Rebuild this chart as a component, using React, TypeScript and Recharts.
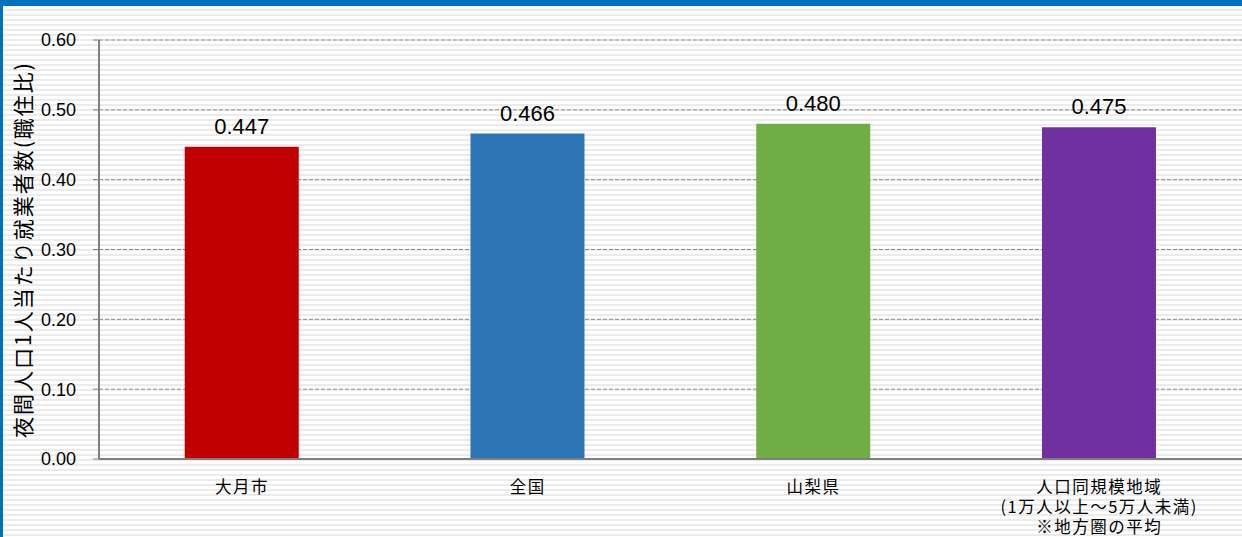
import { Bar, BarChart, CartesianGrid, Cell, LabelList, XAxis, YAxis } from "recharts";

const categories = ["大月市", "全国", "山梨県", "人口同規模地域"];
const subLabels = [[], [], [], ["(1万人以上～5万人未満)", "※地方圏の平均"]];
const ratios = [0.447, 0.466, 0.48, 0.475];
const barColors = ["#c00000", "#2e75b6", "#70ad47", "#7030a0"];
const yTicks = [0, 0.1, 0.2, 0.3, 0.4, 0.5, 0.6];
const yLabel = "夜間人口1人当たり就業者数(職住比)";

const data = categories.map((name, i) => ({ name, value: ratios[i], sub: subLabels[i] }));

const cjkFont = "'Noto Sans CJK JP', 'Noto Sans', sans-serif";
const numFont = "'Liberation Sans', Arial, sans-serif";

function CategoryTick({ x, y, payload, index }: any) {
  const lines = [payload.value, ...(subLabels[index] ?? [])];
  return (
    <g transform={`translate(${x},${y})`}>
      {lines.map((line: string, i: number) => (
        <text
          key={i}
          x={0}
          y={26 + i * 20}
          textAnchor="middle"
          fontSize={16.5}
          letterSpacing={1.5}
          fontFamily={cjkFont}
          fill="#000"
        >
          {line}
        </text>
      ))}
    </g>
  );
}

export default function App() {
  return (
    <div
      style={{
        position: "fixed",
        left: 0,
        top: 0,
        width: 1242,
        height: 537,
        boxSizing: "border-box",
        borderTop: "6px solid #0070c0",
        borderLeft: "3px solid #0070c0",
        background:
          "repeating-linear-gradient(to bottom, #ffffff 0px, #ffffff 3px, #ebebeb 3px, #ebebeb 5px)",
        overflow: "hidden",
      }}
    >
      <div style={{ position: "absolute", left: -3, top: -6 }}>
        <BarChart
          width={1242}
          height={537}
          data={data}
          margin={{ top: 40, right: 0, bottom: 0, left: 0 }}
          barCategoryGap="30%"
        >
          <CartesianGrid
            vertical={false}
            stroke="#8c8c8c"
            strokeDasharray="4 2"
          />
          <XAxis
            dataKey="name"
            height={78}
            axisLine={{ stroke: "#7f7f7f", strokeWidth: 2 }}
            tickLine={false}
            tick={<CategoryTick />}
            interval={0}
          />
          <YAxis
            width={99}
            domain={[0, 0.6]}
            ticks={yTicks}
            tickFormatter={(v: number) => v.toFixed(2)}
            axisLine={{ stroke: "#7f7f7f", strokeWidth: 2 }}
            tickLine={{ stroke: "#7f7f7f" }}
            tickSize={6}
            tickMargin={17}
            tick={{ fill: "#000", fontSize: 18, fontFamily: numFont }}
            label={{
              value: yLabel,
              angle: -90,
              position: "insideLeft",
              dx: 19,
              fontSize: 21,
              letterSpacing: 2,
              fontFamily: cjkFont,
              fill: "#000",
              style: { textAnchor: "middle" },
            }}
          />
          <Bar dataKey="value" isAnimationActive={false}>
            {data.map((d, i) => (
              <Cell key={d.name} fill={barColors[i]} />
            ))}
            <LabelList
              dataKey="value"
              position="top"
              offset={13}
              formatter={(v: any) => Number(v).toFixed(3)}
              style={{ fill: "#000", fontSize: 22, fontFamily: numFont }}
            />
          </Bar>
        </BarChart>
      </div>
    </div>
  );
}
